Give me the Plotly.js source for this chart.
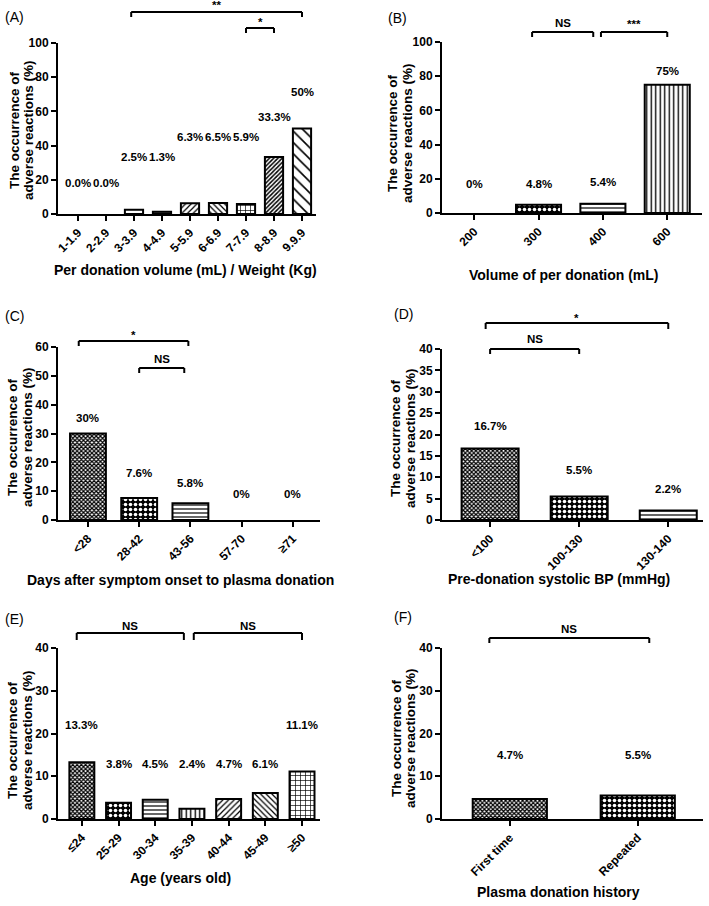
<!DOCTYPE html>
<html><head><meta charset="utf-8">
<script src="https://cdn.plot.ly/plotly-3.0.1.min.js"></script>
<style>html,body{margin:0;padding:0;background:#fff}#chart{width:709px;height:906px}</style>
</head><body><div id="chart"></div>
<script>
// ---------------- DATA ----------------
const catsA = ['1-1.9','2-2.9','3-3.9','4-4.9','5-5.9','6-6.9','7-7.9','8-8.9','9.9.9'];
const valsA = [0, 0, 2.5, 1.3, 6.3, 6.5, 5.9, 33.3, 50];
const textA = ['0.0%','0.0%','2.5%','1.3%','6.3%','6.5%','5.9%','33.3%','50%'];

const catsB = ['200','300','400','600'];
const valsB = [0, 4.8, 5.4, 75];
const textB = ['0%','4.8%','5.4%','75%'];

const catsC = ['<28','28-42','43-56','57-70','≥71'];
const valsC = [30, 7.6, 5.8, 0, 0];
const textC = ['30%','7.6%','5.8%','0%','0%'];

const catsD = ['<100','100-130','130-140'];
const valsD = [16.7, 5.5, 2.2];
const textD = ['16.7%','5.5%','2.2%'];

const catsE = ['≤24','25-29','30-34','35-39','40-44','45-49','≥50'];
const valsE = [13.3, 3.8, 4.5, 2.4, 4.7, 6.1, 11.1];
const textE = ['13.3%','3.8%','4.5%','2.4%','4.7%','6.1%','11.1%'];

const catsF = ['First time','Repeated'];
const valsF = [4.7, 5.5];
const textF = ['4.7%','5.5%'];

// significance comparisons: [fromIndex, toIndex, label]
const compA = [[2, 8, '**'], [6, 7, '*']];
const compB = [[1, 2, 'NS'], [2, 3, '***']];
const compC = [[0, 2, '*'], [1, 2, 'NS']];
const compD = [[0, 2, '*'], [0, 1, 'NS']];
const compE = [[0, 3, 'NS'], [3, 6, 'NS']];
const compF = [[0, 1, 'NS']];

// ---------------- LAYOUT CONFIG ----------------
const W = 709, H = 906;
const px = x => x / W, py = y => 1 - y / H;
const FONT = '"Liberation Sans", Arial, sans-serif';

// pattern styles
const FINE = {s:'x', z:3, o:0.65, fg:'#000', bg:'#fff'};
const CHECK = {s:'.', z:5, o:0.4, fg:'#fff', bg:'#000'};
const HL = {s:'-', z:4, o:0.3, fg:'#000', bg:'#fff'};
const VL = {s:'|', z:4.5, o:0.3, fg:'#000', bg:'#fff'};
const FS = {s:'/', z:4, o:0.3, fg:'#000', bg:'#fff'};
const BS = {s:'\\', z:4, o:0.3, fg:'#000', bg:'#fff'};
const GRID = {s:'+', z:5, o:0.25, fg:'#000', bg:'#fff'};
const NONE = {s:'', z:6, o:0.3, fg:'#000', bg:'#fff'};

const panels = [
  {tag:'(A)', tagXY:[15,17], cats:catsA, vals:valsA, text:textA, comp:compA,
   xl:58, xr:316, yt:43, yb:214, ymax:100, dtick:20, xrange:[-0.714, 8.5], width:0.65,
   pat:[NONE, NONE, NONE, HL, FS, BS, GRID, {s:'/', z:3, o:0.5, fg:'#000', bg:'#fff'}, {s:'\\', z:8, o:0.2, fg:'#000', bg:'#fff'}],
   labelY:[18.3,18.3,33.5,33.5,45.2,45.2,45.2,56.5,71.2],
   brk:[{y:12,d:5,ty:5,o0:-0.1,o1:0},{y:28,d:5,ty:22,o0:0,o1:0}],
   xTitle:'Per donation volume (mL) / Weight (Kg)', xTitleXY:[185,270],
   yTitleX:[14,28], yTitleY:130},
  {tag:'(B)', tagXY:[397,18], cats:catsB, vals:valsB, text:textB, comp:compB,
   xl:442, xr:702, yt:42, yb:213, ymax:100, dtick:20, xrange:[-0.5, 3.54], width:0.7,
   pat:[NONE, CHECK, HL, VL],
   labelY:[16.8,16.8,18.3,83.2],
   brk:[{y:32,d:5,ty:23,o0:-0.1,o1:-0.15},{y:32,d:5,ty:24,o0:-0.03,o1:0}],
   xTitle:'Volume of per donation (mL)', xTitleXY:[564,275],
   yTitleX:[393,408], yTitleY:133},
  {tag:'(C)', tagXY:[14,316], cats:catsC, vals:valsC, text:textC, comp:compC,
   xl:58, xr:320, yt:347, yb:520, ymax:60, dtick:10, xrange:[-0.585, 4.53], width:0.7,
   pat:[FINE, CHECK, HL, NONE, NONE],
   labelY:[35.5,16.4,12.7,9.0,9.0],
   brk:[{y:341,d:5,ty:335,o0:-0.18,o1:-0.04},{y:368,d:5,ty:359,o0:0,o1:-0.12}],
   xTitle:'Days after symptom onset to plasma donation', xTitleXY:[180,580],
   yTitleX:[12,27], yTitleY:437},
  {tag:'(D)', tagXY:[403,314], cats:catsD, vals:valsD, text:textD, comp:compD,
   xl:442, xr:703, yt:349, yb:520, ymax:40, dtick:5, xrange:[-0.54, 2.39], width:0.64,
   pat:[FINE, CHECK, HL],
   labelY:[22.0,11.7,7.2],
   brk:[{y:323,d:6,ty:318,o0:-0.05,o1:0},{y:349,d:5,ty:339,o0:0,o1:0}],
   xTitle:'Pre-donation systolic BP (mmHg)', xTitleXY:[559,579],
   yTitleX:[395,410], yTitleY:438},
  {tag:'(E)', tagXY:[14,619], cats:catsE, vals:valsE, text:textE, comp:compE,
   xl:58, xr:320, yt:648, yb:819, ymax:40, dtick:10, xrange:[-0.65, 6.49], width:0.68,
   pat:[FINE, CHECK, HL, VL, FS, BS, GRID],
   labelY:[22.0,12.8,12.8,12.8,12.8,12.8,22.0],
   brk:[{y:633,d:7,ty:626,o0:-0.14,o1:-0.22},{y:633,d:7,ty:626,o0:0.05,o1:0}],
   xTitle:'Age (years old)', xTitleXY:[180,878],
   yTitleX:[12,27], yTitleY:740},
  {tag:'(F)', tagXY:[403,617], cats:catsF, vals:valsF, text:textF, comp:compF,
   xl:442, xr:703, yt:648, yb:819, ymax:40, dtick:10, xrange:[-0.53, 1.51], width:0.58,
   pat:[FINE, CHECK],
   labelY:[15.0,15.0],
   brk:[{y:638,d:5,ty:629,o0:-0.16,o1:0.09}],
   xTitle:'Plasma donation history', xTitleXY:[558,892],
   yTitleX:[396,410], yTitleY:738}
];

const traces = [];
const layout = {
  width: W, height: H, margin:{l:0,r:0,t:0,b:0},
  paper_bgcolor:'#fff', plot_bgcolor:'rgba(0,0,0,0)',
  showlegend:false, font:{family:FONT, color:'#000'},
  annotations:[], shapes:[]
};

const bold = (s, extra) => Object.assign({family:FONT, size:s, color:'#000', weight:700}, extra||{});

panels.forEach((p, i) => {
  const n = i === 0 ? '' : String(i + 1);
  const xa = 'x' + n, ya = 'y' + n;
  traces.push({
    type:'bar', x:p.cats, y:p.vals, xaxis:xa, yaxis:ya, width:p.width,
    marker:{color:'#fff', line:{color:'#000', width:p.vals.map(v => v > 0 ? 2 : 0)},
      pattern:{shape:p.pat.map(q => q.s), size:p.pat.map(q => q.z), solidity:p.pat.map(q => q.o),
        fgcolor:p.pat.map(q => q.fg), bgcolor:p.pat.map(q => q.bg), fillmode:'replace'}},
    hoverinfo:'skip', showlegend:false
  });
  layout['xaxis' + n] = {
    domain:[px(p.xl), px(p.xr)], anchor:ya, type:'category', range:p.xrange,
    showline:true, linewidth:2, linecolor:'#000', ticks:'outside', ticklen:5, tickwidth:2, tickcolor:'#000',
    tickangle:-45, tickfont:bold(12), showgrid:false, zeroline:false, fixedrange:true
  };
  layout['yaxis' + n] = {
    domain:[py(p.yb), py(p.yt)], anchor:xa, range:[0, p.ymax], dtick:p.dtick, tick0:0,
    showline:true, linewidth:2, linecolor:'#000', ticks:'outside', ticklen:5, tickwidth:2, tickcolor:'#000',
    tickfont:bold(12), showgrid:false, zeroline:false, fixedrange:true
  };
  // value labels
  p.text.forEach((t, k) => {
    layout.annotations.push({xref:xa, yref:ya, x:k, y:p.labelY[k], text:t, showarrow:false,
      xanchor:'center', yanchor:'middle', font:bold(11.5)});
  });
  // significance brackets
  p.comp.forEach((c, k) => {
    const b = p.brk[k];
    const a0 = c[0] + b.o0, a1 = c[1] + b.o1;
    const ln = {color:'#000', width:2};
    layout.shapes.push({type:'line', xref:xa, yref:'paper', x0:a0, x1:a1, y0:py(b.y), y1:py(b.y), line:ln});
    layout.shapes.push({type:'line', xref:xa, yref:'paper', x0:a0, x1:a0, y0:py(b.y), y1:py(b.y + b.d), line:ln});
    layout.shapes.push({type:'line', xref:xa, yref:'paper', x0:a1, x1:a1, y0:py(b.y), y1:py(b.y + b.d), line:ln});
    layout.annotations.push({xref:xa, yref:'paper', x:(a0 + a1) / 2, y:py(b.ty), text:c[2], showarrow:false,
      xanchor:'center', yanchor:'middle', font:bold(11.5)});
  });
  // panel tag
  layout.annotations.push({xref:'paper', yref:'paper', x:px(p.tagXY[0]), y:py(p.tagXY[1]), text:p.tag,
    showarrow:false, xanchor:'center', yanchor:'middle', font:{family:FONT, size:14, color:'#000'}});
  // x title
  layout.annotations.push({xref:'paper', yref:'paper', x:px(p.xTitleXY[0]), y:py(p.xTitleXY[1]), text:p.xTitle,
    showarrow:false, xanchor:'center', yanchor:'middle', font:bold(14)});
  // y title (two lines)
  ['The occurrence of', 'adverse reactions (%)'].forEach((t, k) => {
    layout.annotations.push({xref:'paper', yref:'paper', x:px(p.yTitleX[k]), y:py(p.yTitleY), text:t,
      textangle:-90, showarrow:false, xanchor:'center', yanchor:'middle', font:bold(13.5)});
  });
});

Plotly.newPlot('chart', traces, layout, {displayModeBar:false, staticPlot:true});
</script>
</body></html>
